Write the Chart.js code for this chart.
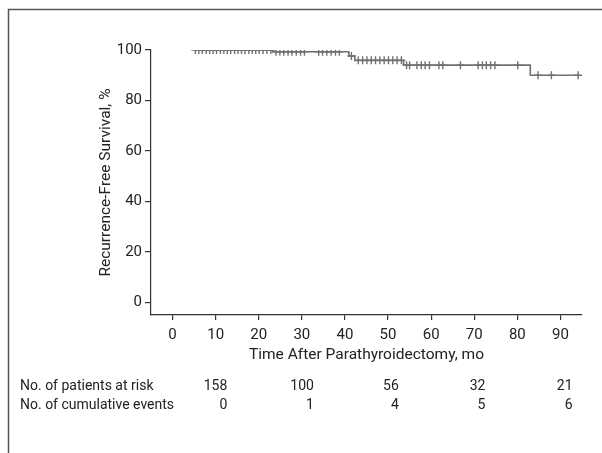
<!DOCTYPE html>
<html>
<head>
<meta charset="utf-8">
<script src="https://cdn.jsdelivr.net/npm/chart.js@4.4.1/dist/chart.umd.min.js"></script>
<style>
  html, body { margin: 0; padding: 0; background: #fff; }
</style>
</head>
<body>
<canvas id="kmChart" width="602" height="453"></canvas>
<script>
const FONT = "'Liberation Sans Narrow', 'Arial Narrow', Roboto, 'Liberation Sans', sans-serif";

// Kaplan-Meier steps: time (mo) and survival (%) after each step
const stepTimes    = [5.3, 23.2, 40.9, 42.3, 53.6, 83.0, 94.1];
const stepSurvival = [100, 99.3, 97.6, 95.9, 94.0, 90.0, 90.0];

// censored observations (mo)
const censorTimes = [
  5.3, 6.1, 6.9, 7.8, 8.6, 9.4, 10.2, 11.1, 11.9, 12.7, 13.5, 14.4, 15.2, 16.0,
  16.8, 17.7, 18.5, 19.3, 20.1, 21.0, 21.9, 22.8,
  24.0, 24.9, 25.8, 26.8, 27.7, 28.7, 29.7, 30.6,
  33.9, 34.8, 35.8, 36.8, 37.8, 38.7,
  41.5,
  43.1, 44.1, 45.1, 46.1, 47.1, 48.1, 49.1, 50.1, 51.1, 52.1, 53.1,
  54.3, 55.0, 56.7, 57.7, 58.6, 59.6, 61.8, 62.7, 66.8,
  70.9, 71.9, 72.8, 73.8, 74.8, 80.1, 84.8, 87.9, 94.1
];

const xTicks = [0, 10, 20, 30, 40, 50, 60, 70, 80, 90];
const yTicks = [0, 20, 40, 60, 80, 100];

// number-at-risk table
const riskTimes = [12.7, 32.8, 52.5, 72.6, 92.8];
const atRisk    = [158, 100, 56, 32, 21];
const cumEvents = [0, 1, 4, 5, 6];

function survivalAt(t) {
  let s = stepSurvival[0];
  for (let i = 0; i < stepTimes.length; i++) {
    if (stepTimes[i] <= t) s = stepSurvival[i];
  }
  return s;
}

const curve = stepTimes.map((t, i) => ({ x: t, y: stepSurvival[i] }));
const censored = censorTimes.map(t => ({ x: t, y: survivalAt(t) }));

const riskTable = {
  id: 'riskTable',
  afterDraw(chart) {
    const ctx = chart.ctx;
    const x = chart.scales.x;
    ctx.save();
    ctx.fillStyle = '#222';
    ctx.font = '14px ' + FONT;
    ctx.textBaseline = 'middle';
    ctx.textAlign = 'left';
    ctx.fillText('No. of patients at risk', 20, 386);
    ctx.fillText('No. of cumulative events', 20, 405);
    ctx.textAlign = 'right';
    riskTimes.forEach((t, i) => {
      const px = x.getPixelForValue(t);
      ctx.fillText(String(atRisk[i]), px, 386);
      ctx.fillText(String(cumEvents[i]), px, 405);
    });
    // figure frame (top and left)
    ctx.strokeStyle = '#555';
    ctx.lineWidth = 1.5;
    ctx.beginPath();
    ctx.moveTo(8.5, 453);
    ctx.lineTo(8.5, 9.5);
    ctx.lineTo(602, 9.5);
    ctx.stroke();
    ctx.restore();
  }
};

const ctx = document.getElementById('kmChart').getContext('2d');

new Chart(ctx, {
  type: 'scatter',
  data: {
    datasets: [
      {
        label: 'Recurrence-free survival',
        data: curve,
        showLine: true,
        stepped: true,
        borderColor: '#707070',
        borderWidth: 1.6,
        pointRadius: 0
      },
      {
        label: 'Censored',
        data: censored,
        pointStyle: 'cross',
        pointRadius: 4,
        borderColor: '#707070',
        borderWidth: 1.4
      }
    ]
  },
  options: {
    responsive: false,
    animation: false,
    layout: { padding: { left: 93, top: 50, right: 20, bottom: 85 } },
    plugins: {
      legend: { display: false },
      tooltip: { enabled: false }
    },
    scales: {
      x: {
        type: 'linear',
        min: -5,
        max: 95,
        afterBuildTicks: s => { s.ticks = xTicks.map(v => ({ value: v })); },
        afterFit: s => { s.height = 53; },
        grid: { display: true, drawOnChartArea: false, drawTicks: true, tickLength: 5, color: '#333', lineWidth: 1.2 },
        border: { color: '#333', width: 1.2 },
        ticks: { color: '#222', font: { family: FONT, size: 15 }, padding: 6, maxRotation: 0 },
        title: { display: true, text: 'Time After Parathyroidectomy, mo', color: '#222', font: { family: FONT, size: 15.5 } }
      },
      y: {
        min: -5,
        max: 100,
        afterBuildTicks: s => { s.ticks = yTicks.map(v => ({ value: v })); },
        afterFit: s => { s.width = 58; },
        grid: { display: true, drawOnChartArea: false, drawTicks: true, tickLength: 6, color: '#333', lineWidth: 1.2 },
        border: { color: '#333', width: 1.2 },
        ticks: { color: '#222', font: { family: FONT, size: 15 }, padding: 3 },
        title: { display: true, text: 'Recurrence-Free Survival, %', color: '#222', font: { family: FONT, size: 15.5 } }
      }
    }
  },
  plugins: [riskTable]
});
</script>
</body>
</html>
